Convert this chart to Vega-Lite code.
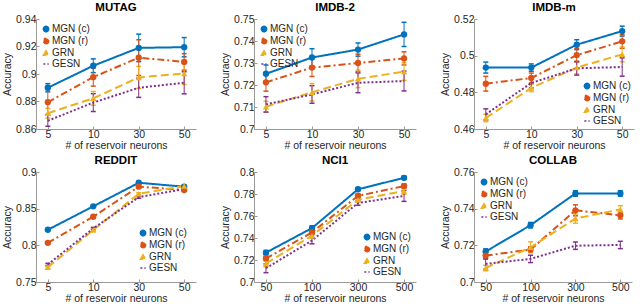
{
  "$schema": "https://vega.github.io/schema/vega-lite/v6.json",
  "background": "white",
  "padding": {"left": 2, "top": 1, "right": 2, "bottom": 0},
  "config": {
    "font": "Liberation Sans",
    "view": {"stroke": null},
    "axis": {
      "grid": false,
      "domainColor": "#9a9a9a",
      "tickColor": "#9a9a9a",
      "tickSize": -3,
      "labelColor": "#262626",
      "titleColor": "#262626",
      "labelFontSize": 10.5,
      "titleFontSize": 10.5,
      "titleFontWeight": "normal",
      "labelPadding": 3
    },
    "axisX": {"labelAngle": 0, "titlePadding": 1},
    "axisY": {"titlePadding": 3},
    "title": {"fontSize": 11.5, "fontWeight": "bold", "color": "#000000", "offset": 1},
    "legend": {
      "labelFontSize": 10,
      "labelColor": "#262626",
      "symbolSize": 28,
      "rowPadding": 0,
      "padding": 1,
      "offset": 4,
      "title": null,
      "symbolStrokeWidth": 1.5,
      "labelOffset": 1,
      "labelLimit": 80
    },
    "line": {"strokeWidth": 2},
    "errorbar": {"thickness": 1.8}
  },
  "datasets": {
    "acc": [
      {"panel": "MUTAG", "n": 5, "series": "MGN (c)", "acc": 0.890, "err": 0.003},
      {"panel": "MUTAG", "n": 10, "series": "MGN (c)", "acc": 0.906, "err": 0.005},
      {"panel": "MUTAG", "n": 30, "series": "MGN (c)", "acc": 0.919, "err": 0.010},
      {"panel": "MUTAG", "n": 50, "series": "MGN (c)", "acc": 0.9195, "err": 0.007},
      {"panel": "MUTAG", "n": 5, "series": "MGN (r)", "acc": 0.8795, "err": 0.009},
      {"panel": "MUTAG", "n": 10, "series": "MGN (r)", "acc": 0.8977, "err": 0.0065},
      {"panel": "MUTAG", "n": 30, "series": "MGN (r)", "acc": 0.9119, "err": 0.013},
      {"panel": "MUTAG", "n": 50, "series": "MGN (r)", "acc": 0.9088, "err": 0.006},
      {"panel": "MUTAG", "n": 5, "series": "GRN", "acc": 0.8715, "err": 0.0035},
      {"panel": "MUTAG", "n": 10, "series": "GRN", "acc": 0.8823, "err": 0.005},
      {"panel": "MUTAG", "n": 30, "series": "GRN", "acc": 0.8975, "err": 0.008},
      {"panel": "MUTAG", "n": 50, "series": "GRN", "acc": 0.9004, "err": 0.008},
      {"panel": "MUTAG", "n": 5, "series": "GESN", "acc": 0.866, "err": 0.004},
      {"panel": "MUTAG", "n": 10, "series": "GESN", "acc": 0.8792, "err": 0.0065},
      {"panel": "MUTAG", "n": 30, "series": "GESN", "acc": 0.890, "err": 0.007},
      {"panel": "MUTAG", "n": 50, "series": "GESN", "acc": 0.8936, "err": 0.008},

      {"panel": "IMDB-2", "n": 5, "series": "MGN (c)", "acc": 0.7251, "err": 0.004},
      {"panel": "IMDB-2", "n": 10, "series": "MGN (c)", "acc": 0.7325, "err": 0.004},
      {"panel": "IMDB-2", "n": 30, "series": "MGN (c)", "acc": 0.7361, "err": 0.003},
      {"panel": "IMDB-2", "n": 50, "series": "MGN (c)", "acc": 0.743, "err": 0.0055},
      {"panel": "IMDB-2", "n": 5, "series": "MGN (r)", "acc": 0.7212, "err": 0.004},
      {"panel": "IMDB-2", "n": 10, "series": "MGN (r)", "acc": 0.7279, "err": 0.004},
      {"panel": "IMDB-2", "n": 30, "series": "MGN (r)", "acc": 0.730, "err": 0.004},
      {"panel": "IMDB-2", "n": 50, "series": "MGN (r)", "acc": 0.7321, "err": 0.003},
      {"panel": "IMDB-2", "n": 5, "series": "GRN", "acc": 0.7101, "err": 0.0025},
      {"panel": "IMDB-2", "n": 10, "series": "GRN", "acc": 0.7167, "err": 0.004},
      {"panel": "IMDB-2", "n": 30, "series": "GRN", "acc": 0.7228, "err": 0.004},
      {"panel": "IMDB-2", "n": 50, "series": "GRN", "acc": 0.7261, "err": 0.004},
      {"panel": "IMDB-2", "n": 5, "series": "GESN", "acc": 0.7112, "err": 0.0035},
      {"panel": "IMDB-2", "n": 10, "series": "GESN", "acc": 0.7157, "err": 0.004},
      {"panel": "IMDB-2", "n": 30, "series": "GESN", "acc": 0.721, "err": 0.0045},
      {"panel": "IMDB-2", "n": 50, "series": "GESN", "acc": 0.7218, "err": 0.0045},

      {"panel": "IMDB-m", "n": 5, "series": "MGN (c)", "acc": 0.4935, "err": 0.003},
      {"panel": "IMDB-m", "n": 10, "series": "MGN (c)", "acc": 0.4935, "err": 0.002},
      {"panel": "IMDB-m", "n": 30, "series": "MGN (c)", "acc": 0.506, "err": 0.0027},
      {"panel": "IMDB-m", "n": 50, "series": "MGN (c)", "acc": 0.5134, "err": 0.0027},
      {"panel": "IMDB-m", "n": 5, "series": "MGN (r)", "acc": 0.4847, "err": 0.004},
      {"panel": "IMDB-m", "n": 10, "series": "MGN (r)", "acc": 0.4878, "err": 0.0027},
      {"panel": "IMDB-m", "n": 30, "series": "MGN (r)", "acc": 0.5003, "err": 0.0037},
      {"panel": "IMDB-m", "n": 50, "series": "MGN (r)", "acc": 0.5078, "err": 0.0038},
      {"panel": "IMDB-m", "n": 5, "series": "GRN", "acc": 0.466, "err": 0.002},
      {"panel": "IMDB-m", "n": 10, "series": "GRN", "acc": 0.4824, "err": 0.002},
      {"panel": "IMDB-m", "n": 30, "series": "GRN", "acc": 0.4935, "err": 0.0035},
      {"panel": "IMDB-m", "n": 50, "series": "GRN", "acc": 0.5007, "err": 0.004},
      {"panel": "IMDB-m", "n": 5, "series": "GESN", "acc": 0.468, "err": 0.003},
      {"panel": "IMDB-m", "n": 10, "series": "GESN", "acc": 0.4851, "err": 0.0027},
      {"panel": "IMDB-m", "n": 30, "series": "GESN", "acc": 0.4931, "err": 0.0037},
      {"panel": "IMDB-m", "n": 50, "series": "GESN", "acc": 0.4938, "err": 0.005},

      {"panel": "REDDIT", "n": 5, "series": "MGN (c)", "acc": 0.8212, "err": 0.0015},
      {"panel": "REDDIT", "n": 10, "series": "MGN (c)", "acc": 0.8532, "err": 0.0015},
      {"panel": "REDDIT", "n": 30, "series": "MGN (c)", "acc": 0.8853, "err": 0.0015},
      {"panel": "REDDIT", "n": 50, "series": "MGN (c)", "acc": 0.880, "err": 0.0015},
      {"panel": "REDDIT", "n": 5, "series": "MGN (r)", "acc": 0.8034, "err": 0.0015},
      {"panel": "REDDIT", "n": 10, "series": "MGN (r)", "acc": 0.839, "err": 0.0015},
      {"panel": "REDDIT", "n": 30, "series": "MGN (r)", "acc": 0.880, "err": 0.0015},
      {"panel": "REDDIT", "n": 50, "series": "MGN (r)", "acc": 0.8755, "err": 0.0015},
      {"panel": "REDDIT", "n": 5, "series": "GRN", "acc": 0.770, "err": 0.0015},
      {"panel": "REDDIT", "n": 10, "series": "GRN", "acc": 0.8208, "err": 0.0015},
      {"panel": "REDDIT", "n": 30, "series": "GRN", "acc": 0.8702, "err": 0.0015},
      {"panel": "REDDIT", "n": 50, "series": "GRN", "acc": 0.8808, "err": 0.0015},
      {"panel": "REDDIT", "n": 5, "series": "GESN", "acc": 0.774, "err": 0.0015},
      {"panel": "REDDIT", "n": 10, "series": "GESN", "acc": 0.823, "err": 0.0015},
      {"panel": "REDDIT", "n": 30, "series": "GESN", "acc": 0.8657, "err": 0.0015},
      {"panel": "REDDIT", "n": 50, "series": "GESN", "acc": 0.8768, "err": 0.0015},

      {"panel": "NCI1", "n": 50, "series": "MGN (c)", "acc": 0.7267, "err": 0.002},
      {"panel": "NCI1", "n": 100, "series": "MGN (c)", "acc": 0.749, "err": 0.002},
      {"panel": "NCI1", "n": 300, "series": "MGN (c)", "acc": 0.7843, "err": 0.0015},
      {"panel": "NCI1", "n": 500, "series": "MGN (c)", "acc": 0.7947, "err": 0.0015},
      {"panel": "NCI1", "n": 50, "series": "MGN (r)", "acc": 0.7214, "err": 0.002},
      {"panel": "NCI1", "n": 100, "series": "MGN (r)", "acc": 0.7451, "err": 0.002},
      {"panel": "NCI1", "n": 300, "series": "MGN (r)", "acc": 0.7783, "err": 0.002},
      {"panel": "NCI1", "n": 500, "series": "MGN (r)", "acc": 0.7872, "err": 0.002},
      {"panel": "NCI1", "n": 50, "series": "GRN", "acc": 0.7169, "err": 0.003},
      {"panel": "NCI1", "n": 100, "series": "GRN", "acc": 0.7421, "err": 0.002},
      {"panel": "NCI1", "n": 300, "series": "GRN", "acc": 0.7748, "err": 0.002},
      {"panel": "NCI1", "n": 500, "series": "GRN", "acc": 0.7828, "err": 0.003},
      {"panel": "NCI1", "n": 50, "series": "GESN", "acc": 0.7125, "err": 0.004},
      {"panel": "NCI1", "n": 100, "series": "GESN", "acc": 0.7377, "err": 0.003},
      {"panel": "NCI1", "n": 300, "series": "GESN", "acc": 0.7718, "err": 0.002},
      {"panel": "NCI1", "n": 500, "series": "GESN", "acc": 0.7783, "err": 0.005},

      {"panel": "COLLAB", "n": 50, "series": "MGN (c)", "acc": 0.7166, "err": 0.0015},
      {"panel": "COLLAB", "n": 100, "series": "MGN (c)", "acc": 0.731, "err": 0.0015},
      {"panel": "COLLAB", "n": 300, "series": "MGN (c)", "acc": 0.7483, "err": 0.0015},
      {"panel": "COLLAB", "n": 500, "series": "MGN (c)", "acc": 0.7483, "err": 0.0015},
      {"panel": "COLLAB", "n": 50, "series": "MGN (r)", "acc": 0.7144, "err": 0.002},
      {"panel": "COLLAB", "n": 100, "series": "MGN (r)", "acc": 0.7177, "err": 0.0015},
      {"panel": "COLLAB", "n": 300, "series": "MGN (r)", "acc": 0.7391, "err": 0.003},
      {"panel": "COLLAB", "n": 500, "series": "MGN (r)", "acc": 0.7364, "err": 0.002},
      {"panel": "COLLAB", "n": 50, "series": "GRN", "acc": 0.7076, "err": 0.0015},
      {"panel": "COLLAB", "n": 100, "series": "GRN", "acc": 0.7189, "err": 0.003},
      {"panel": "COLLAB", "n": 300, "series": "GRN", "acc": 0.7346, "err": 0.0025},
      {"panel": "COLLAB", "n": 500, "series": "GRN", "acc": 0.7396, "err": 0.002},
      {"panel": "COLLAB", "n": 50, "series": "GESN", "acc": 0.7099, "err": 0.003},
      {"panel": "COLLAB", "n": 100, "series": "GESN", "acc": 0.7126, "err": 0.002},
      {"panel": "COLLAB", "n": 300, "series": "GESN", "acc": 0.7198, "err": 0.002},
      {"panel": "COLLAB", "n": 500, "series": "GESN", "acc": 0.7202, "err": 0.002}
    ]
  },
  "columns": 3,
  "spacing": {"row": 3, "column": 24},
  "resolve": {
    "scale": {"x": "independent", "y": "independent", "color": "independent", "shape": "independent", "strokeDash": "independent"},
    "legend": {"color": "independent", "shape": "independent", "strokeDash": "independent"}
  },
  "concat": [
    {
      "title": "MUTAG", "width": 160, "height": 110,
      "data": {"name": "acc"},
      "transform": [{"filter": "datum.panel === 'MUTAG'"}],
      "encoding": {
        "x": {"field": "n", "type": "ordinal", "scale": {"type": "point", "padding": 0.26}, "axis": {"title": "# of reservoir neurons"}},
        "y": {"field": "acc", "type": "quantitative", "scale": {"domain": [0.86, 0.94], "nice": false, "zero": false}, "axis": {"title": "Accuracy", "values": [0.86, 0.88, 0.9, 0.92, 0.94], "format": "~g"}},
        "color": {"field": "series", "type": "nominal", "scale": {"domain": ["MGN (c)", "MGN (r)", "GRN", "GESN"], "range": ["#0072BD", "#D95319", "#EDB120", "#7E2F8E"]}, "legend": {"orient": "top-left"}}
      },
      "layer": [
        {"mark": {"type": "errorbar", "ticks": {"size": 5, "opacity": 1, "thickness": 1.5}}, "encoding": {"yError": {"field": "err"}}},
        {"mark": {"type": "line"}, "encoding": {"strokeDash": {"field": "series", "type": "nominal", "scale": {"domain": ["MGN (c)", "MGN (r)", "GRN", "GESN"], "range": [[1, 0], [7, 3, 2, 3], [8, 4], [2, 2]]}, "legend": null}}},
        {"mark": {"type": "point", "filled": true, "size": 40, "opacity": 1}, "transform": [{"filter": "datum.series !== 'GESN'"}], "encoding": {"shape": {"field": "series", "type": "nominal", "scale": {"domain": ["MGN (c)", "MGN (r)", "GRN", "GESN"], "range": ["circle", "circle", "triangle-up", "stroke"]}, "legend": {"orient": "top-left"}}}}
      ]
    },
    {
      "title": "IMDB-2", "width": 162, "height": 110,
      "data": {"name": "acc"},
      "transform": [{"filter": "datum.panel === 'IMDB-2'"}],
      "encoding": {
        "x": {"field": "n", "type": "ordinal", "scale": {"type": "point", "padding": 0.26}, "axis": {"title": "# of reservoir neurons"}},
        "y": {"field": "acc", "type": "quantitative", "scale": {"domain": [0.7, 0.75], "nice": false, "zero": false}, "axis": {"title": "Accuracy", "values": [0.7, 0.71, 0.72, 0.73, 0.74, 0.75], "format": "~g"}},
        "color": {"field": "series", "type": "nominal", "scale": {"domain": ["MGN (c)", "MGN (r)", "GRN", "GESN"], "range": ["#0072BD", "#D95319", "#EDB120", "#7E2F8E"]}, "legend": {"orient": "top-left"}}
      },
      "layer": [
        {"mark": {"type": "errorbar", "ticks": {"size": 5, "opacity": 1, "thickness": 1.5}}, "encoding": {"yError": {"field": "err"}}},
        {"mark": {"type": "line"}, "encoding": {"strokeDash": {"field": "series", "type": "nominal", "scale": {"domain": ["MGN (c)", "MGN (r)", "GRN", "GESN"], "range": [[1, 0], [7, 3, 2, 3], [8, 4], [2, 2]]}, "legend": null}}},
        {"mark": {"type": "point", "filled": true, "size": 40, "opacity": 1}, "transform": [{"filter": "datum.series !== 'GESN'"}], "encoding": {"shape": {"field": "series", "type": "nominal", "scale": {"domain": ["MGN (c)", "MGN (r)", "GRN", "GESN"], "range": ["circle", "circle", "triangle-up", "stroke"]}, "legend": {"orient": "top-left"}}}}
      ]
    },
    {
      "title": "IMDB-m", "width": 160, "height": 110,
      "data": {"name": "acc"},
      "transform": [{"filter": "datum.panel === 'IMDB-m'"}],
      "encoding": {
        "x": {"field": "n", "type": "ordinal", "scale": {"type": "point", "padding": 0.26}, "axis": {"title": "# of reservoir neurons"}},
        "y": {"field": "acc", "type": "quantitative", "scale": {"domain": [0.46, 0.52], "nice": false, "zero": false}, "axis": {"title": "Accuracy", "values": [0.46, 0.48, 0.5, 0.52], "format": "~g"}},
        "color": {"field": "series", "type": "nominal", "scale": {"domain": ["MGN (c)", "MGN (r)", "GRN", "GESN"], "range": ["#0072BD", "#D95319", "#EDB120", "#7E2F8E"]}, "legend": {"orient": "bottom-right", "offset": 2}}
      },
      "layer": [
        {"mark": {"type": "errorbar", "ticks": {"size": 5, "opacity": 1, "thickness": 1.5}}, "encoding": {"yError": {"field": "err"}}},
        {"mark": {"type": "line"}, "encoding": {"strokeDash": {"field": "series", "type": "nominal", "scale": {"domain": ["MGN (c)", "MGN (r)", "GRN", "GESN"], "range": [[1, 0], [7, 3, 2, 3], [8, 4], [2, 2]]}, "legend": null}}},
        {"mark": {"type": "point", "filled": true, "size": 40, "opacity": 1}, "transform": [{"filter": "datum.series !== 'GESN'"}], "encoding": {"shape": {"field": "series", "type": "nominal", "scale": {"domain": ["MGN (c)", "MGN (r)", "GRN", "GESN"], "range": ["circle", "circle", "triangle-up", "stroke"]}, "legend": {"orient": "bottom-right", "offset": 2}}}}
      ]
    },
    {
      "title": "REDDIT", "width": 160, "height": 110,
      "data": {"name": "acc"},
      "transform": [{"filter": "datum.panel === 'REDDIT'"}],
      "encoding": {
        "x": {"field": "n", "type": "ordinal", "scale": {"type": "point", "padding": 0.26}, "axis": {"title": "# of reservoir neurons"}},
        "y": {"field": "acc", "type": "quantitative", "scale": {"domain": [0.75, 0.9], "nice": false, "zero": false}, "axis": {"title": "Accuracy", "values": [0.75, 0.8, 0.85, 0.9], "format": "~g"}},
        "color": {"field": "series", "type": "nominal", "scale": {"domain": ["MGN (c)", "MGN (r)", "GRN", "GESN"], "range": ["#0072BD", "#D95319", "#EDB120", "#7E2F8E"]}, "legend": {"orient": "bottom-right", "offset": 8}}
      },
      "layer": [
        {"mark": {"type": "errorbar", "ticks": {"size": 5, "opacity": 1, "thickness": 1.5}}, "encoding": {"yError": {"field": "err"}}},
        {"mark": {"type": "line"}, "encoding": {"strokeDash": {"field": "series", "type": "nominal", "scale": {"domain": ["MGN (c)", "MGN (r)", "GRN", "GESN"], "range": [[1, 0], [7, 3, 2, 3], [8, 4], [2, 2]]}, "legend": null}}},
        {"mark": {"type": "point", "filled": true, "size": 40, "opacity": 1}, "transform": [{"filter": "datum.series !== 'GESN'"}], "encoding": {"shape": {"field": "series", "type": "nominal", "scale": {"domain": ["MGN (c)", "MGN (r)", "GRN", "GESN"], "range": ["circle", "circle", "triangle-up", "stroke"]}, "legend": {"orient": "bottom-right", "offset": 8}}}}
      ]
    },
    {
      "title": "NCI1", "width": 162, "height": 110,
      "data": {"name": "acc"},
      "transform": [{"filter": "datum.panel === 'NCI1'"}],
      "encoding": {
        "x": {"field": "n", "type": "ordinal", "scale": {"type": "point", "padding": 0.26}, "axis": {"title": "# of reservoir neurons"}},
        "y": {"field": "acc", "type": "quantitative", "scale": {"domain": [0.7, 0.8], "nice": false, "zero": false}, "axis": {"title": "Accuracy", "values": [0.7, 0.72, 0.74, 0.76, 0.78, 0.8], "format": "~g"}},
        "color": {"field": "series", "type": "nominal", "scale": {"domain": ["MGN (c)", "MGN (r)", "GRN", "GESN"], "range": ["#0072BD", "#D95319", "#EDB120", "#7E2F8E"]}, "legend": {"orient": "bottom-right", "offset": 4}}
      },
      "layer": [
        {"mark": {"type": "errorbar", "ticks": {"size": 5, "opacity": 1, "thickness": 1.5}}, "encoding": {"yError": {"field": "err"}}},
        {"mark": {"type": "line"}, "encoding": {"strokeDash": {"field": "series", "type": "nominal", "scale": {"domain": ["MGN (c)", "MGN (r)", "GRN", "GESN"], "range": [[1, 0], [7, 3, 2, 3], [8, 4], [2, 2]]}, "legend": null}}},
        {"mark": {"type": "point", "filled": true, "size": 40, "opacity": 1}, "transform": [{"filter": "datum.series !== 'GESN'"}], "encoding": {"shape": {"field": "series", "type": "nominal", "scale": {"domain": ["MGN (c)", "MGN (r)", "GRN", "GESN"], "range": ["circle", "circle", "triangle-up", "stroke"]}, "legend": {"orient": "bottom-right", "offset": 4}}}}
      ]
    },
    {
      "title": "COLLAB", "width": 158, "height": 110,
      "data": {"name": "acc"},
      "transform": [{"filter": "datum.panel === 'COLLAB'"}],
      "encoding": {
        "x": {"field": "n", "type": "ordinal", "scale": {"type": "point", "padding": 0.26}, "axis": {"title": "# of reservoir neurons"}},
        "y": {"field": "acc", "type": "quantitative", "scale": {"domain": [0.7, 0.76], "nice": false, "zero": false}, "axis": {"title": "Accuracy", "values": [0.7, 0.72, 0.74, 0.76], "format": "~g"}},
        "color": {"field": "series", "type": "nominal", "scale": {"domain": ["MGN (c)", "MGN (r)", "GRN", "GESN"], "range": ["#0072BD", "#D95319", "#EDB120", "#7E2F8E"]}, "legend": {"orient": "top-left"}}
      },
      "layer": [
        {"mark": {"type": "errorbar", "ticks": {"size": 5, "opacity": 1, "thickness": 1.5}}, "encoding": {"yError": {"field": "err"}}},
        {"mark": {"type": "line"}, "encoding": {"strokeDash": {"field": "series", "type": "nominal", "scale": {"domain": ["MGN (c)", "MGN (r)", "GRN", "GESN"], "range": [[1, 0], [7, 3, 2, 3], [8, 4], [2, 2]]}, "legend": null}}},
        {"mark": {"type": "point", "filled": true, "size": 40, "opacity": 1}, "transform": [{"filter": "datum.series !== 'GESN'"}], "encoding": {"shape": {"field": "series", "type": "nominal", "scale": {"domain": ["MGN (c)", "MGN (r)", "GRN", "GESN"], "range": ["circle", "circle", "triangle-up", "stroke"]}, "legend": {"orient": "top-left"}}}}
      ]
    }
  ]
}
